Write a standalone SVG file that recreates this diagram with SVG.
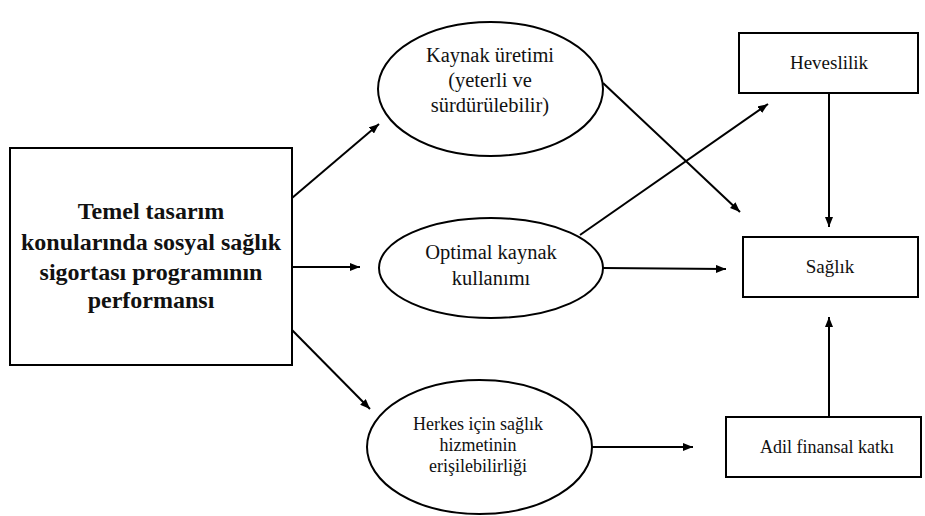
<svg xmlns="http://www.w3.org/2000/svg" width="925" height="516" viewBox="0 0 925 516">
  <style>
    .shape { fill: #ffffff; stroke: #000000; stroke-width: 2; }
    .edge { fill: none; stroke: #000000; stroke-width: 2; marker-end: url(#arrow); }
    .txt { font-family: 'Liberation Serif', 'Times New Roman', 'DejaVu Serif', serif; fill: #111111; text-anchor: middle; }
    .lbl-l { font-size: 20.5px; }
    .lbl { font-size: 19px; }
    .lbl-s { font-size: 18px; }
    .title { font-size: 24px; font-weight: bold; }
  </style>
  <defs>
    <marker id="arrow" markerUnits="userSpaceOnUse" markerWidth="10" markerHeight="8" refX="10" refY="4" orient="auto">
      <path d="M0,0 L10,4 L0,8 z" fill="#000000"/>
    </marker>
  </defs>
  <rect width="925" height="516" fill="#ffffff"/>

  <g id="connectors">
    <line class="edge" x1="292" y1="198" x2="379" y2="124"/>
    <line class="edge" x1="292" y1="267" x2="360" y2="267"/>
    <line class="edge" x1="292" y1="330" x2="370" y2="409"/>
    <line class="edge" x1="603" y1="83" x2="740" y2="212"/>
    <line class="edge" x1="580" y1="235" x2="768" y2="104"/>
    <line class="edge" x1="603" y1="268" x2="726" y2="269"/>
    <line class="edge" x1="829" y1="93" x2="829" y2="227"/>
    <line class="edge" x1="829" y1="417" x2="829" y2="317"/>
    <line class="edge" x1="592" y1="447" x2="693" y2="447"/>
  </g>

  <g id="performans" class="txt" font-family="Liberation Serif, serif">
    <rect class="shape" x="10" y="148" width="282" height="217"/>
    <text class="title" x="151" y="219">Temel tasarım</text>
    <text class="title" x="151" y="250">konularında sosyal sağlık</text>
    <text class="title" x="151" y="280">sigortası programının</text>
    <text class="title" x="151" y="308">performansı</text>
  </g>

  <g id="kaynak-uretimi" class="txt" font-family="Liberation Serif, serif">
    <ellipse class="shape" cx="490.5" cy="89" rx="112.5" ry="67"/>
    <text class="lbl-l" x="490" y="62">Kaynak üretimi</text>
    <text class="lbl-l" x="490" y="87">(yeterli ve</text>
    <text class="lbl-l" x="490" y="112">sürdürülebilir)</text>
  </g>

  <g id="optimal-kullanim" class="txt" font-family="Liberation Serif, serif">
    <ellipse class="shape" cx="491" cy="268" rx="112" ry="50"/>
    <text class="lbl-l" x="491" y="259">Optimal kaynak</text>
    <text class="lbl-l" x="491" y="285">kullanımı</text>
  </g>

  <g id="erisilebilirlik" class="txt" font-family="Liberation Serif, serif">
    <ellipse class="shape" cx="479.5" cy="447" rx="112.5" ry="67"/>
    <text class="lbl-s" x="478" y="430">Herkes için sağlık</text>
    <text class="lbl-s" x="478" y="451">hizmetinin</text>
    <text class="lbl-s" x="478" y="472">erişilebilirliği</text>
  </g>

  <g id="heveslilik" class="txt" font-family="Liberation Serif, serif">
    <rect class="shape" x="739" y="33" width="179" height="60"/>
    <text class="lbl" x="829" y="69">Heveslilik</text>
  </g>

  <g id="saglik" class="txt" font-family="Liberation Serif, serif">
    <rect class="shape" x="743" y="237" width="175" height="60"/>
    <text class="lbl" x="830" y="273">Sağlık</text>
  </g>

  <g id="adil-finansal-katki" class="txt" font-family="Liberation Serif, serif">
    <rect class="shape" x="726" y="417" width="195" height="60"/>
    <text class="lbl-s" x="827" y="453">Adil finansal katkı</text>
  </g>
</svg>
